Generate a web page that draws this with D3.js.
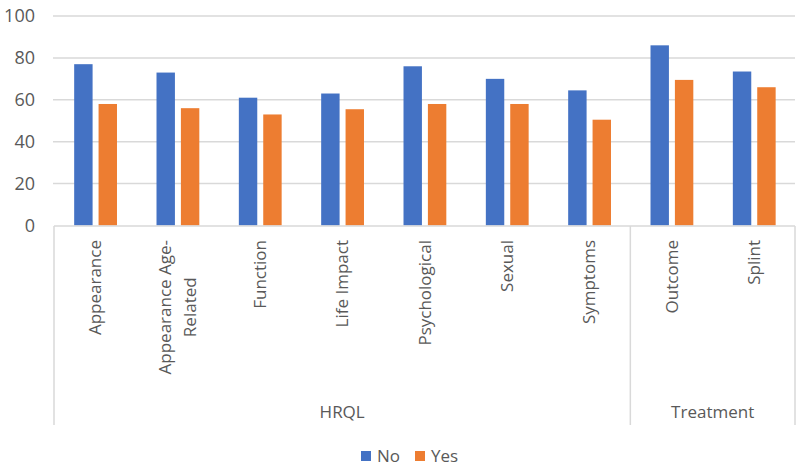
<!DOCTYPE html>
<html>
<head>
  <title>HRQL and Treatment by group</title>
  <script src="https://d3js.org/d3.v7.min.js"></script>
  <style>
    body { margin: 0; background: #fff; }
    svg { display: block; font-family: "Open Sans", sans-serif; }
  </style>
</head>
<body>
  <svg id="chart" width="800" height="472"></svg>

  <script>
    // Data
    const categories = ['Appearance', 'Appearance Age-Related', 'Function', 'Life Impact',
      'Psychological', 'Sexual', 'Symptoms', 'Outcome', 'Splint'];
    // wrapped lines as drawn on the axis
    const categoryLines = [['Appearance'], ['Appearance Age-', 'Related'], ['Function'], ['Life Impact'],
      ['Psychological'], ['Sexual'], ['Symptoms'], ['Outcome'], ['Splint']];
    const groups = ['HRQL', 'Treatment'];
    const groupSizes = [7, 2];
    const series = ['No', 'Yes'];
    const noValues = [77, 73, 61, 63, 76, 70, 64.5, 86, 73.5];
    const yesValues = [58, 56, 53, 55.5, 58, 58, 50.5, 69.5, 66];
    const yTicks = [0, 20, 40, 60, 80, 100];

    const colors = { No: '#4472C4', Yes: '#ED7D31' };
    const textColor = '#595959';
    const gridColor = '#d9d9d9';

    const plotLeft = 54, plotRight = 795, plotTop = 16, plotBottom = 225.5;

    const svg = d3.select('#chart');

    const y = d3.scaleLinear().domain([0, 100]).range([plotBottom, plotTop]);
    const x0 = d3.scaleBand().domain(categories).range([plotLeft, plotRight]).padding(0);
    const x1 = d3.scaleBand().domain(series)
      .range([x0.bandwidth() * 0.245, x0.bandwidth() * 0.765])
      .paddingInner(0.245);

    // gridlines
    svg.append('g')
      .selectAll('line')
      .data(yTicks.filter(d => d > 0))
      .join('line')
      .attr('x1', plotLeft - 1).attr('x2', plotRight)
      .attr('y1', d => y(d)).attr('y2', d => y(d))
      .attr('stroke', gridColor).attr('stroke-width', 1.5);

    // y axis labels
    const yAxis = svg.append('g')
      .attr('transform', `translate(${plotLeft},0)`)
      .call(d3.axisLeft(y).tickValues(yTicks).tickSize(0).tickPadding(19));
    yAxis.select('.domain').remove();
    yAxis.selectAll('text')
      .attr('fill', textColor)
      .style('font-size', '18px')
      .style('font-family', '"Open Sans", sans-serif');

    // bars
    const rows = categories.map((c, i) => ({ cat: c, No: noValues[i], Yes: yesValues[i] }));
    svg.append('g')
      .selectAll('g')
      .data(rows)
      .join('g')
      .attr('transform', d => `translate(${x0(d.cat)},0)`)
      .selectAll('rect')
      .data(d => series.map(s => ({ s, v: d[s] })))
      .join('rect')
      .attr('x', d => x1(d.s))
      .attr('width', x1.bandwidth())
      .attr('y', d => y(d.v))
      .attr('height', d => y(0) - y(d.v))
      .attr('fill', d => colors[d.s]);

    // category axis: baseline and group boxes
    const axisG = svg.append('g').attr('stroke', gridColor).attr('stroke-width', 1.5);
    axisG.append('line')
      .attr('x1', plotLeft).attr('x2', plotRight)
      .attr('y1', plotBottom + 0.5).attr('y2', plotBottom + 0.5);

    let start = 0;
    const bounds = [0];
    groupSizes.forEach(n => { start += n; bounds.push(start); });
    const boundX = i => i < categories.length ? x0(categories[i]) : plotRight;
    axisG.selectAll('line.sep')
      .data(bounds)
      .join('line')
      .attr('class', 'sep')
      .attr('x1', boundX)
      .attr('x2', boundX)
      .attr('y1', plotBottom + 0.5).attr('y2', 425);

    // rotated category labels
    const labelTop = 240, lineGap = 25;
    const labels = svg.append('g')
      .selectAll('text')
      .data(categories)
      .join('text')
      .attr('fill', textColor)
      .style('font-size', '17px');

    labels.each(function (c, i) {
      const t = d3.select(this);
      const lines = categoryLines[i];
      const cx = x0(c) + x0.bandwidth() / 2;
      lines.forEach(ln => t.append('tspan').text(ln));
      if (lines.length === 1) {
        t.attr('text-anchor', 'end')
          .attr('transform', `translate(${cx + 6},${labelTop}) rotate(-90)`);
      } else {
        const maxLen = d3.max(t.selectAll('tspan').nodes(), n => n.getComputedTextLength());
        const mid = labelTop + maxLen / 2;
        t.attr('text-anchor', 'middle')
          .attr('transform', `translate(${cx + 6},${mid}) rotate(-90)`);
        t.selectAll('tspan')
          .attr('x', 0)
          .attr('y', (d, j) => (j - (lines.length - 1) / 2) * lineGap);
      }
    });

    // group labels
    svg.append('g')
      .selectAll('text')
      .data(groups)
      .join('text')
      .attr('x', (g, i) => (boundX(bounds[i]) + boundX(bounds[i + 1])) / 2)
      .attr('y', 418)
      .attr('text-anchor', 'middle')
      .attr('fill', textColor)
      .style('font-size', '17px')
      .text(g => g);

    // legend
    const legendX = [361, 415];
    const legend = svg.append('g')
      .selectAll('g')
      .data(series)
      .join('g')
      .attr('transform', (d, i) => `translate(${legendX[i]},451)`);
    legend.append('rect')
      .attr('width', 10).attr('height', 10)
      .attr('fill', d => colors[d]);
    legend.append('text')
      .attr('x', 16).attr('y', 11)
      .attr('fill', textColor)
      .style('font-size', '17px')
      .text(d => d);
  </script>
</body>
</html>
